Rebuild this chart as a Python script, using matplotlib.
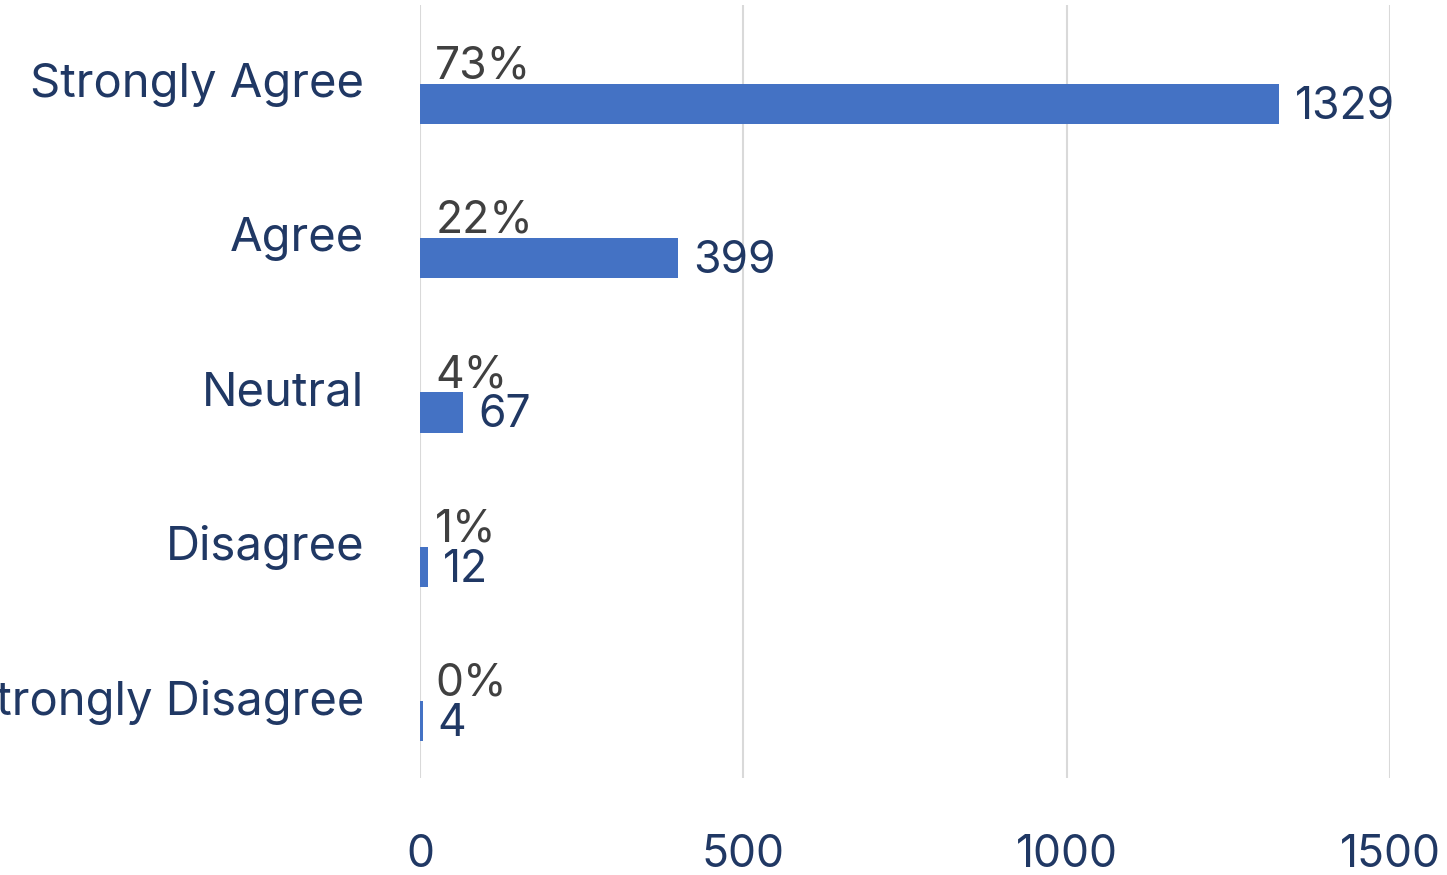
import numpy as np
import matplotlib
matplotlib.use('Agg')
from matplotlib import pyplot as plt

# survey responses
categories = ['Strongly Agree', 'Agree', 'Neutral', 'Disagree', 'Strongly Disagree']
counts = [1329, 399, 67, 12, 4]
xticks = [0, 500, 1000, 1500]

NAVY = '#203864'
GREY = '#404040'
BAR = '#4472C4'

plt.rcParams['font.family'] = ['Inter', 'DejaVu Sans']

fig = plt.figure(figsize=(14.47, 8.75), dpi=100)
ax = fig.add_axes([420 / 1447, 1 - 778 / 875, 970 / 1447, 773 / 875])

ypos = np.arange(len(categories))
ax.barh(ypos, counts, height=0.26, color=BAR, zorder=3)

total = sum(counts)
for y, c in zip(ypos, counts):
    pct = '{:.0f}%'.format(100.0 * c / total)
    ax.annotate(pct, (0, y), xytext=(11, 27), textcoords='offset points',
                ha='left', va='center', fontsize=32, color=GREY, zorder=4)
    ax.annotate(str(c), (c, y), xytext=(11, -2), textcoords='offset points',
                ha='left', va='center', fontsize=32, color=NAVY, zorder=4)

ax.set_xlim(0, 1500)
ax.set_ylim(4 + 0.3695, -0.642)
ax.set_xticks(xticks)
ax.set_xticklabels([str(t) for t in xticks], fontsize=32, color=NAVY)
ax.set_yticks(ypos - 0.155)
ax.set_yticklabels(categories, fontsize=34, color=NAVY)
ax.tick_params(axis='both', length=0)
ax.tick_params(axis='x', pad=40)
ax.tick_params(axis='y', pad=40)
ax.grid(axis='x', color='#D9D9D9', linewidth=1.5, zorder=0)
for s in ax.spines.values():
    s.set_visible(False)

plt.savefig('out.png', dpi=100)
